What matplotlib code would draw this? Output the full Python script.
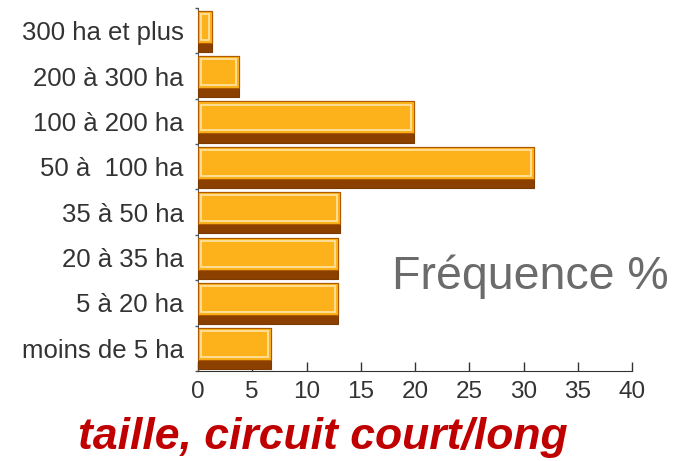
import matplotlib.pyplot as plt
import numpy as np

categories = ["moins de 5 ha", "5 à 20 ha", "20 à 35 ha", "35 à 50 ha",
              "50 à  100 ha", "100 à 200 ha", "200 à 300 ha", "300 ha et plus"]
frequence = [6.7, 12.9, 12.9, 13.1, 31.0, 19.9, 3.8, 1.3]
xticks = [0, 5, 10, 15, 20, 25, 30, 35, 40]

plt.rcParams["font.family"] = ["Liberation Sans", "DejaVu Sans"]

fig = plt.figure(figsize=(6.87, 4.61), dpi=100)
ax = fig.add_axes([198 / 687, 1 - 371 / 461, 434 / 687, 363 / 461])

y = np.arange(len(categories))
vals = np.array(frequence)

# bevelled bars: dark base, orange top part, light inner line
ax.barh(y - 0.0125, vals, height=0.905, color="#8B4000", edgecolor="#7A3A00",
        linewidth=0.8, zorder=3)
ax.barh(y + 0.0875, vals, height=0.705, color="#FDB21C", edgecolor="#B05A00",
        linewidth=0.8, zorder=4)
ax.barh(y + 0.0875, vals - 0.55, left=0.28, height=0.57, color="none",
        edgecolor="#FFE2A0", linewidth=1.3, zorder=5)

ax.set_xlim(0, 40)
ax.set_ylim(-0.5, len(categories) - 0.5)
ax.set_xticks(xticks)
ax.set_yticks(y)
ax.set_yticklabels(categories, fontsize=18.5, color="#333333")
ax.set_yticks(np.arange(len(categories) + 1) - 0.5, minor=True)

ax.tick_params(axis="x", direction="in", length=6.5, width=1, color="#333333",
               labelsize=17.5, labelcolor="#333333", pad=7)
ax.tick_params(axis="y", which="major", length=0, pad=10.5)
ax.tick_params(axis="y", which="minor", length=2, width=1, color="#555555")

for s in ["top", "right"]:
    ax.spines[s].set_visible(False)
ax.spines["left"].set_color("#555555")
ax.spines["bottom"].set_color("#333333")

fig.text(530 / 687, 1 - 277 / 461, "Fréquence %", fontsize=33.5, color="#6B6B6B",
         ha="center", va="center")
fig.text(323 / 687, 1 - 437 / 461, "taille, circuit court/long", fontsize=32,
         color="#C00000", fontweight="bold", fontstyle="italic",
         ha="center", va="center")

fig.savefig("out.png", dpi=100)
